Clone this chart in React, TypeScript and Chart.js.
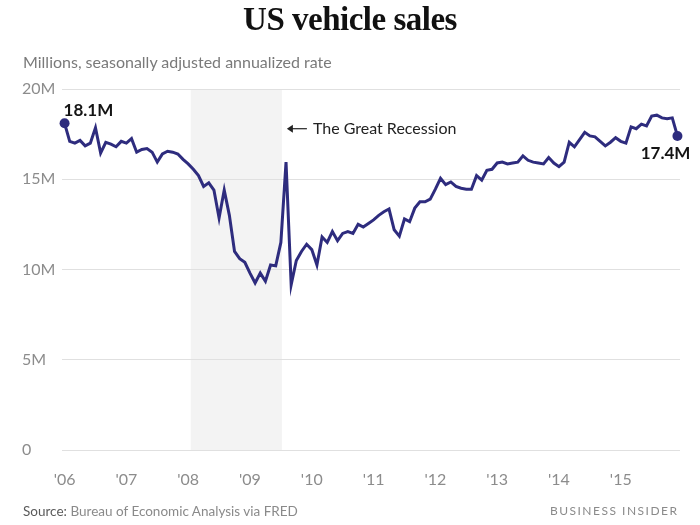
import React, { useEffect, useRef } from 'react';
import { Chart, registerables } from 'chart.js';

Chart.register(...registerables);

// ---- Data (millions, seasonally adjusted annualized rate), Jan 2006 – Dec 2015 ----
const yearLabels = ["'06", "'07", "'08", "'09", "'10", "'11", "'12", "'13", "'14", "'15"];

const sales2006 = [18.1, 17.1, 17.0, 17.15, 16.85, 17.0, 17.85, 16.45, 17.05, 16.95, 16.8, 17.1];
const sales2007 = [17.0, 17.25, 16.5, 16.65, 16.7, 16.5, 15.95, 16.4, 16.55, 16.5, 16.4, 16.1];
const sales2008 = [15.85, 15.55, 15.2, 14.6, 14.8, 14.4, 12.85, 14.4, 13.0, 11.0, 10.6, 10.4];
const sales2009 = [9.8, 9.25, 9.8, 9.35, 10.25, 10.2, 11.5, 15.95, 9.15, 10.5, 11.0, 11.4];
const sales2010 = [11.1, 10.25, 11.8, 11.5, 12.1, 11.6, 12.0, 12.1, 12.0, 12.5, 12.35, 12.55];
const sales2011 = [12.75, 13.0, 13.2, 13.35, 12.2, 11.85, 12.8, 12.65, 13.4, 13.75, 13.75, 13.9];
const sales2012 = [14.45, 15.05, 14.7, 14.85, 14.6, 14.5, 14.45, 14.45, 15.2, 14.95, 15.5, 15.55];
const sales2013 = [15.9, 15.95, 15.85, 15.9, 15.95, 16.3, 16.05, 15.95, 15.9, 15.85, 16.2, 15.9];
const sales2014 = [15.7, 15.95, 17.05, 16.8, 17.2, 17.6, 17.4, 17.35, 17.1, 16.85, 17.05, 17.3];
const sales2015 = [17.1, 17.0, 17.9, 17.8, 18.05, 17.95, 18.5, 18.55, 18.4, 18.35, 18.4, 17.4];

const sales = [
  ...sales2006, ...sales2007, ...sales2008, ...sales2009, ...sales2010,
  ...sales2011, ...sales2012, ...sales2013, ...sales2014, ...sales2015,
];

const yTickValues = [0, 5, 10, 15, 20];
const yTickLabels = ['0', '5M', '10M', '15M', '20M'];

// Recession band, in month index (0 = Jan 2006)
const recessionStart = 24.5;
const recessionEnd = 42.2;
const recessionLabel = 'The Great Recession';
const recessionLabelLevel = 17.8;

const LINE = '#2e2c7e';
const SANS = 'Lato, "Open Sans", sans-serif';

const annotations = {
  id: 'bi-annotations',
  beforeDraw(chart: any) {
    const { ctx, chartArea, scales } = chart;
    const x0 = scales.x.getPixelForValue(recessionStart);
    const x1 = scales.x.getPixelForValue(recessionEnd);
    ctx.save();
    ctx.fillStyle = '#f3f3f3';
    ctx.fillRect(x0, chartArea.top, x1 - x0, chartArea.bottom - chartArea.top);
    ctx.restore();
  },
  afterDatasetsDraw(chart: any) {
    const { ctx, scales } = chart;
    const meta = chart.getDatasetMeta(0);
    const first = meta.data[0];
    const last = meta.data[meta.data.length - 1];
    ctx.save();
    ctx.fillStyle = '#141414';
    ctx.font = `bold 17px ${SANS}`;
    ctx.textBaseline = 'middle';
    ctx.textAlign = 'left';
    ctx.fillText(sales[0].toFixed(1) + 'M', first.x - 1, first.y - 13);
    ctx.textAlign = 'right';
    ctx.fillText(sales[sales.length - 1].toFixed(1) + 'M', last.x + 13, last.y + 18);

    // recession arrow + label
    const ax = scales.x.getPixelForValue(recessionEnd) + 5;
    const ay = scales.y.getPixelForValue(recessionLabelLevel);
    ctx.strokeStyle = '#222';
    ctx.fillStyle = '#222';
    ctx.lineWidth = 1.2;
    ctx.beginPath();
    ctx.moveTo(ax + 20, ay);
    ctx.lineTo(ax + 3, ay);
    ctx.stroke();
    ctx.beginPath();
    ctx.moveTo(ax, ay);
    ctx.lineTo(ax + 6, ay - 4);
    ctx.lineTo(ax + 6, ay + 4);
    ctx.closePath();
    ctx.fill();
    ctx.font = `16px ${SANS}`;
    ctx.textAlign = 'left';
    ctx.fillText(recessionLabel, ax + 26, ay);
    ctx.restore();
  },
};

export default function App() {
  const canvasRef = useRef<HTMLCanvasElement | null>(null);

  useEffect(() => {
    if (!canvasRef.current) return;
    const n = sales.length;
    const chart = new Chart(canvasRef.current, {
      type: 'line',
      data: {
        datasets: [
          {
            data: sales.map((v, i) => ({ x: i, y: v })),
            borderColor: LINE,
            backgroundColor: LINE,
            borderWidth: 3,
            tension: 0,
            clip: false,
            pointRadius: sales.map((_, i) => (i === 0 || i === n - 1 ? 5 : 0)),
            pointBorderWidth: 0,
            pointHoverRadius: 0,
          },
        ],
      },
      options: {
        animation: false,
        responsive: false,
        devicePixelRatio: 1,
        layout: { padding: { left: 22, right: 20, top: 89, bottom: 35 } },
        plugins: { legend: { display: false }, tooltip: { enabled: false }, title: { display: false } },
        scales: {
          x: {
            type: 'linear',
            min: -0.5,
            max: n - 0.5,
            grid: { display: false },
            border: { display: false },
            afterBuildTicks: (scale: any) => {
              scale.ticks = yearLabels.map((_, i) => ({ value: i * 12 }));
            },
            afterFit: (scale: any) => {
              scale.height = 40;
            },
            ticks: {
              autoSkip: false,
              maxRotation: 0,
              padding: 12,
              color: '#8c8c8c',
              font: { family: SANS, size: 16 },
              callback: (v: any) => yearLabels[Math.round(Number(v) / 12)] ?? '',
            },
          },
          y: {
            min: 0,
            max: 20,
            afterBuildTicks: (scale: any) => {
              scale.ticks = yTickValues.map((v) => ({ value: v }));
            },
            afterFit: (scale: any) => {
              scale.width = 40;
            },
            grid: { color: '#e0e0e0', lineWidth: 1, drawTicks: false },
            border: { display: false },
            ticks: {
              crossAlign: 'far',
              color: '#8c8c8c',
              font: { family: SANS, size: 16 },
              callback: (v: any) => yTickLabels[yTickValues.indexOf(Number(v))] ?? '',
            },
          },
        },
      },
      plugins: [annotations],
    });
    return () => chart.destroy();
  }, []);

  return (
    <div style={{ position: 'absolute', left: 0, top: 0, width: 700, height: 525, background: '#fff', overflow: 'hidden' }}>
      <canvas ref={canvasRef} width={700} height={525} style={{ position: 'absolute', left: 0, top: 0, width: 700, height: 525 }} />
      <div
        style={{
          position: 'absolute', left: 0, top: 3, width: 700, textAlign: 'center',
          fontFamily: '"Liberation Serif", serif', fontWeight: 'bold', fontSize: 33, lineHeight: '33px',
          color: '#111', letterSpacing: '-0.5px',
        }}
      >
        US vehicle sales
      </div>
      <div
        style={{
          position: 'absolute', left: 23, top: 52, fontFamily: SANS, fontSize: 16, lineHeight: '19px', color: '#7a7a7a',
        }}
      >
        Millions, seasonally adjusted annualized rate
      </div>
      <div
        style={{
          position: 'absolute', left: 23, top: 503, fontFamily: SANS, fontSize: 13.5, lineHeight: '16px', color: '#8a8a8a',
        }}
      >
        <span style={{ color: '#5a5a5a' }}>Source:</span> Bureau of Economic Analysis via FRED
      </div>
      <div
        style={{
          position: 'absolute', right: 23, top: 504, fontFamily: SANS, fontSize: 12, lineHeight: '14px', color: '#8a8a8a',
          letterSpacing: '1.5px', marginRight: -1.5,
        }}
      >
        BUSINESS INSIDER
      </div>
    </div>
  );
}
